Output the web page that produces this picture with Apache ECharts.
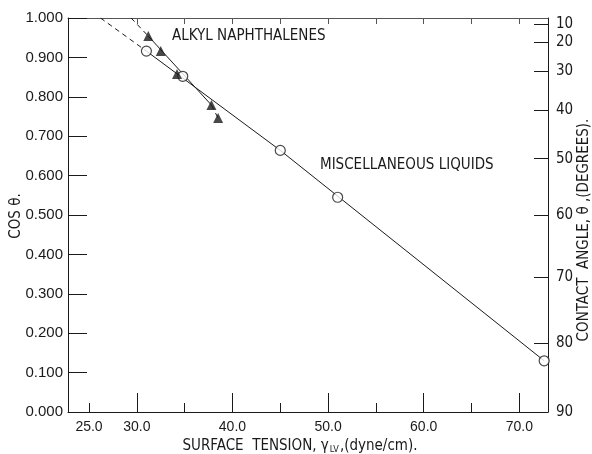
<!DOCTYPE html>
<html>
<head>
<meta charset="utf-8">
<script src="https://cdn.jsdelivr.net/npm/echarts@6/dist/echarts.min.js"></script>
<style>
  html, body { margin: 0; padding: 0; background: #fff; }
  #chart { width: 592px; height: 454px; }
</style>
</head>
<body>
<div id="chart"></div>
<script>
// Wetting data: surface tension of the liquid (dyne/cm) against cos θ
const miscTension = [31.0, 34.8, 45.0, 51.0, 72.6];
const miscCos     = [0.916, 0.852, 0.664, 0.545, 0.130];
const alkylTension = [31.2, 32.5, 34.2, 37.8, 38.5];
const alkylCos     = [0.954, 0.916, 0.858, 0.779, 0.746];

// Hand-drawn fits; the first segment is the dashed extrapolation to cos θ = 1
const miscFitTension  = [26.2, 31.0, 45.0, 72.6];
const miscFitCos      = [1.000, 0.916, 0.664, 0.130];
const alkylFitTension = [29.4, 31.2, 37.8, 38.5];
const alkylFitCos     = [1.000, 0.954, 0.779, 0.746];

// Axis ticks
const xMajorTicks = [30, 40, 50, 60, 70];
const xMinorTicks = [25, 35, 45, 55, 65];
const xTickLabels = [25, 30, 40, 50, 60, 70];
const topTicks    = [30, 35, 40, 45, 50, 55, 60, 65, 70];
const angleTicks  = [10, 20, 30, 40, 50, 60, 70, 80, 90];

const X_MIN = 22.8, X_MAX = 73.0;
const INK = '#1a1a1a';
const FONT = "'Liberation Sans', 'DejaVu Sans', sans-serif";
const NARROW = "'Liberation Sans Narrow', 'DejaVu Sans Condensed', sans-serif";

const pts = (xs, ys, from, to) => {
  const out = [];
  for (let i = from; i <= to; i++) out.push([xs[i], ys[i]]);
  return out;
};
const angleCos = angleTicks.map(a => Math.cos(a * Math.PI / 180));

const fitLine = (data, dashed) => ({
  type: 'line', data, xAxisIndex: 0, yAxisIndex: 0,
  showSymbol: false, silent: true, z: 2,
  lineStyle: { color: INK, width: 1, type: dashed ? [5, 4] : 'solid' }
});

const chart = echarts.init(document.getElementById('chart'), null, { renderer: 'canvas' });
chart.setOption({
  animation: false,
  backgroundColor: '#fff',
  grid: { left: 68, right: 44, top: 18, bottom: 42, containLabel: false },
  xAxis: [
    {
      type: 'value', position: 'bottom', min: X_MIN, max: X_MAX,
      axisLine: { lineStyle: { color: INK, width: 1 } },
      axisTick: { inside: true, length: 19, customValues: xMajorTicks, lineStyle: { color: INK } },
      axisLabel: {
        customValues: xTickLabels, margin: 8, color: INK, fontFamily: FONT, fontSize: 14,
        formatter: v => Number(v).toFixed(1)
      },
      splitLine: { show: false }
    },
    {
      type: 'value', position: 'bottom', min: X_MIN, max: X_MAX,
      axisLine: { show: false },
      axisTick: { inside: true, length: 9, customValues: xMinorTicks, lineStyle: { color: INK } },
      axisLabel: { show: false },
      splitLine: { show: false }
    },
    {
      type: 'value', position: 'top', min: X_MIN, max: X_MAX,
      axisLine: { lineStyle: { color: '#555', width: 1 } },
      axisTick: { inside: true, length: 6, customValues: topTicks, lineStyle: { color: '#555' } },
      axisLabel: { show: false },
      splitLine: { show: false }
    }
  ],
  yAxis: [
    {
      type: 'value', position: 'left', min: 0, max: 1, interval: 0.1,
      axisLine: { show: true, lineStyle: { color: INK, width: 1 } },
      axisTick: { show: true, inside: true, length: 19, lineStyle: { color: INK } },
      axisLabel: {
        margin: 5, color: INK, fontFamily: FONT, fontSize: 15,
        formatter: v => Number(v).toFixed(3)
      },
      splitLine: { show: false }
    },
    {
      type: 'value', position: 'right', min: 0, max: 1,
      axisLine: { show: true, lineStyle: { color: INK, width: 1 } },
      axisTick: { show: true, inside: true, length: 14, customValues: angleCos, lineStyle: { color: INK } },
      axisLabel: {
        customValues: angleCos, margin: 8, color: INK, fontFamily: NARROW, fontSize: 15,
        formatter: v => String(Math.round(Math.acos(Math.min(1, Math.max(0, v))) * 180 / Math.PI))
      },
      splitLine: { show: false }
    }
  ],
  series: [
    fitLine(pts(miscFitTension, miscFitCos, 0, 1), true),
    fitLine(pts(miscFitTension, miscFitCos, 1, 3), false),
    fitLine(pts(alkylFitTension, alkylFitCos, 0, 1), true),
    fitLine(pts(alkylFitTension, alkylFitCos, 1, 2), false),
    fitLine(pts(alkylFitTension, alkylFitCos, 2, 3), true),
    {
      name: 'Miscellaneous liquids', type: 'scatter', z: 4,
      data: pts(miscTension, miscCos, 0, miscTension.length - 1),
      symbol: 'circle', symbolSize: 10,
      itemStyle: { color: '#fff', borderColor: INK, borderWidth: 1.2 }
    },
    {
      name: 'Alkyl naphthalenes', type: 'scatter', z: 5,
      data: pts(alkylTension, alkylCos, 0, alkylTension.length - 1),
      symbol: 'triangle', symbolSize: [10, 10],
      itemStyle: { color: INK }
    }
  ],
  graphic: [
    {
      type: 'text', x: 172, y: 36, z: 10,
      style: { text: 'ALKYL NAPHTHALENES', fill: INK, font: `15px ${NARROW}`, align: 'left', verticalAlign: 'middle' }
    },
    {
      type: 'text', x: 320, y: 165, z: 10,
      style: { text: 'MISCELLANEOUS LIQUIDS', fill: INK, font: `15px ${NARROW}`, align: 'left', verticalAlign: 'middle' }
    },
    {
      type: 'text', x: 16, y: 216, rotation: Math.PI / 2, z: 10,
      style: { text: 'COS θ.', fill: INK, font: `15px ${NARROW}`, align: 'center', verticalAlign: 'middle' }
    },
    {
      type: 'text', x: 584, y: 230, rotation: Math.PI / 2, z: 10,
      style: { text: 'CONTACT  ANGLE, θ ,(DEGREES).', fill: INK, font: `15px ${NARROW}`, align: 'center', verticalAlign: 'middle' }
    },
    {
      type: 'text', x: 300, y: 446, z: 10,
      style: {
        text: 'SURFACE  TENSION, γ{sub|LV},(dyne/cm).',
        fill: INK, font: `15px ${NARROW}`, align: 'center', verticalAlign: 'middle',
        rich: { sub: { fontSize: 9, fontFamily: NARROW, padding: [7, 1, 0, 1] } }
      }
    }
  ]
});
</script>
</body>
</html>
